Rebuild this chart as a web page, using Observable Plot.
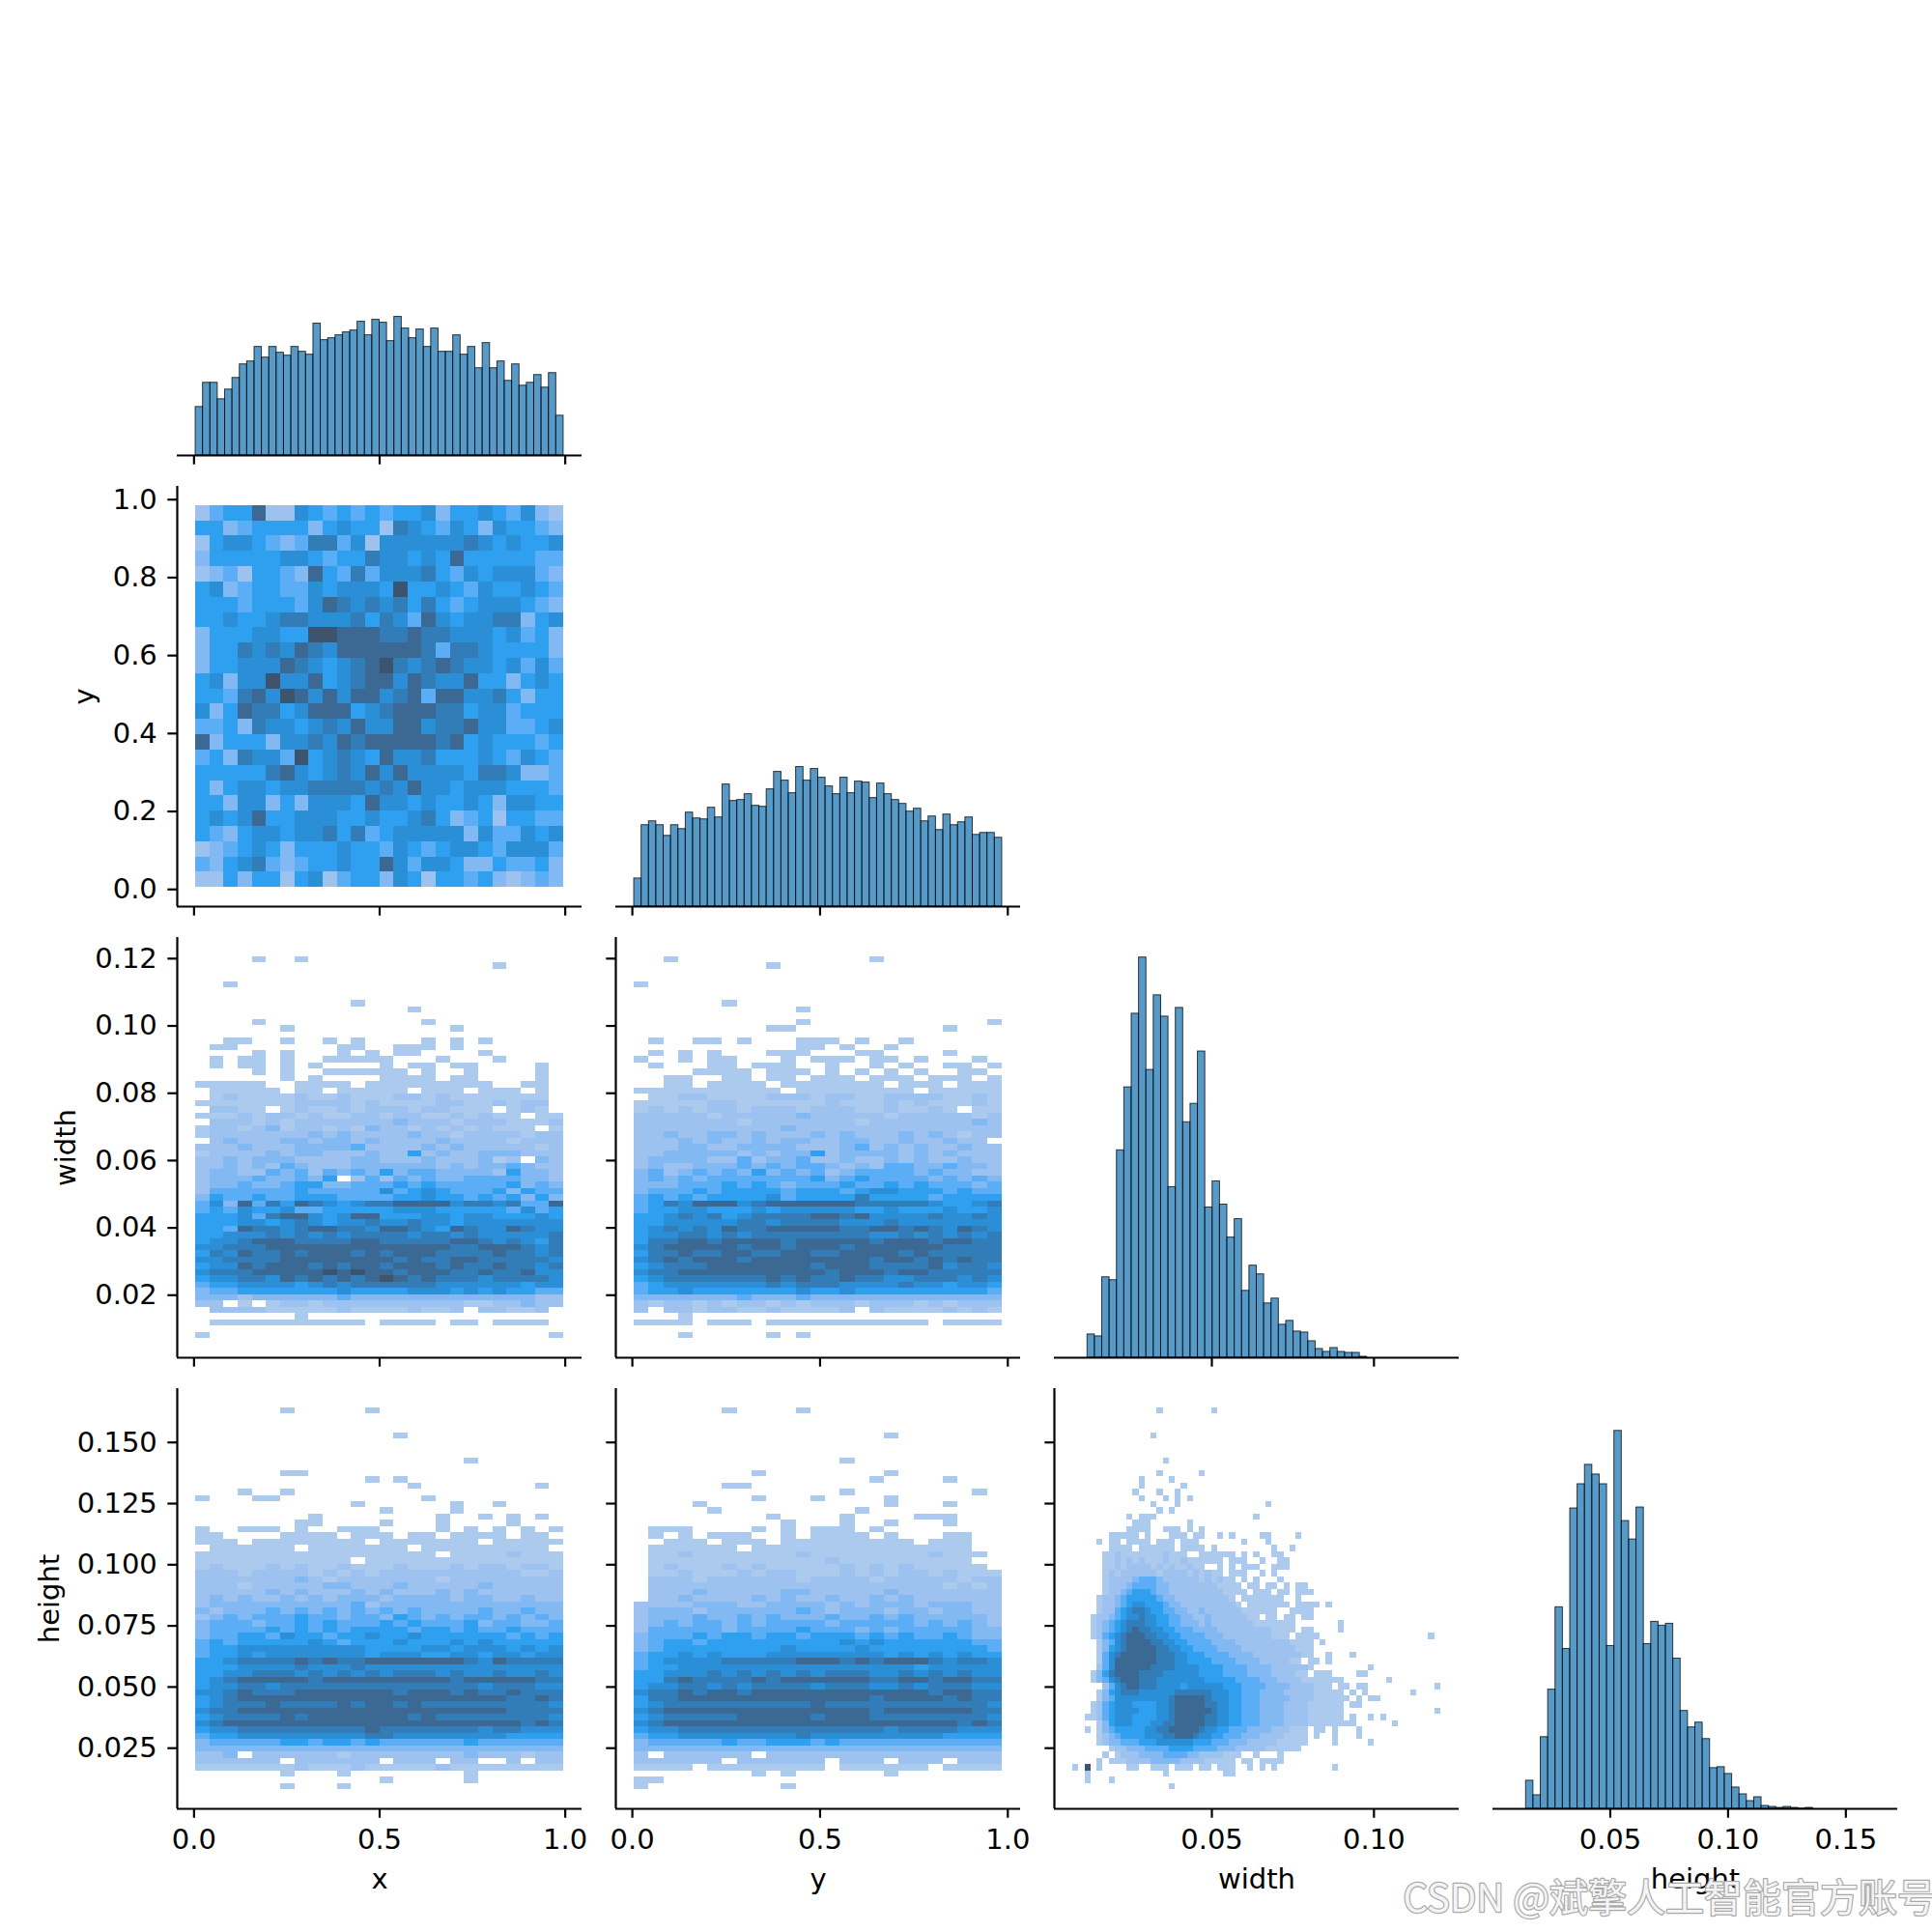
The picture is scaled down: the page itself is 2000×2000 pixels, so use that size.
<!DOCTYPE html>
<html><head><meta charset="utf-8">
<script src="https://cdn.jsdelivr.net/npm/d3@7"></script>
<script src="https://cdn.jsdelivr.net/npm/@observablehq/plot@0.6"></script>
<style>
body{margin:0;background:#fff;}
#fig{position:relative;width:2000px;height:2000px;background:#fff;overflow:hidden;}
#fig svg{position:absolute;overflow:visible;}
</style></head><body><div id="fig"></div>
<script>
// ---------------- data ----------------
const variables = ["x", "y", "width", "height"];
const xRange = [0.0044, 0.9956];
const yRange = [0.005, 0.985];
const widthRange = [0.0071, 0.1206];
const heightRange = [0.0080, 0.1642];

const xHistCounts = [50,75,75,58,68,80,94,97,112,101,112,106,103,112,107,104,136,119,121,124,127,129,138,124,140,137,118,143,131,121,130,112,131,107,107,124,104,112,90,116,90,97,77,94,72,75,83,70,85,41];
const yHistCounts = [29,84,88,84,73,84,80,97,91,90,102,92,126,109,110,116,104,103,121,139,130,117,144,130,142,133,124,116,133,117,129,128,112,127,116,110,106,98,101,88,93,79,95,84,87,92,74,76,76,71];
const widthHistCounts = [0,0,24,22,83,80,214,279,355,413,297,374,352,176,361,243,262,316,155,182,158,124,143,69,95,86,56,61,34,38,27,26,17,9,6,10,6,5,5,1,0,0,0,0,0,0,0,0,0,0];
const heightHistCounts = [0,0,29,14,74,123,208,165,310,335,355,345,335,168,390,297,278,311,170,193,189,191,155,101,84,89,72,42,43,36,22,15,8,12,3,2,1,2,1,0.3,1,0,0,0,0,0,0,0,0,0];

const bins2d = [26, 25, 61, 61];

const xTicksBottom = [0, 0.5, 1.0];
const yTicksBottom = [0, 0.5, 1.0];
const widthTicksBottom = [0.05, 0.10];
const heightTicksBottom = [0.05, 0.10, 0.15];
const yTicksLeft = [0, 0.2, 0.4, 0.6, 0.8, 1.0];
const widthTicksLeft = [0.02, 0.04, 0.06, 0.08, 0.10, 0.12];
const heightTicksLeft = [0.025, 0.05, 0.075, 0.10, 0.125, 0.15];

const watermark = "CSDN @斌擎人工智能官方账号";

// 2D histogram intensity levels (0 = empty, 1 = lightest ... 9 = darkest), rows from top
const gridXY = [
"24558226545454556355654632","55345555356552765465365543","25665434774626666667656556","35555566545576656585555544",
"23425543854746667546566643","56345544656665955654655654","55545554687676757545666543","55655677666757648656677356",
"35556655998887787766656453","35576768768888887477655553","35566687656789767876656464","56366966856788687668553565",
"55478698686886784886675355","63587756888567888775664555","44537665676866886778664456","83555366768788888785655545",
"45376649567658667555654654","55555786567686866665776334","53566566777767686656665554","55366353666586656556536655",
"56568556665565567534525544","54356656675745666663644656","23456535556554654566546664","43567434556558646653354453",
"22535525624553652554532343"];

const gridXWidth = [
"00001001000000000000000000","00000000000000000000010000","00000000000000000000000000","00000000000000000000000000",
"00100000000000000000000000","00000000000000000000000000","00000000000000000000000000","00000000000100000000000000",
"00000000000000010000000000","00000000000000000000000000","00001000000000001000000000","00000010000000000010000000",
"00000000000000000000000000","00110010010100001010100000","01100000001100111010000000","00001010001010110000100000",
"01011010011111000100010000","01011010100001011011000010","00001010011111101001000010","00000010100001111011000010",
"11111001111011111111100110","01111101101111101110111010","01211112112111221211111110","11111112222121111221121220",
"02211012112122212211101210","11121221211221221121211011","02221212222222322212221112","12212312212132212121211101",
"12222222323222232212222122","02322233233232222322221222","22232223333422223232222212","12222323322232252322333222",
"22323332222332223222312032","22323243222333333232334322","23322434243435344333325332","23334334350242434334444332",
"23343345533444545444445343","24444445444446456544453544","35445445554444556554545353","46384758765677888867767448",
"45465564455555666555554645","55564788656885556656655565","55566567656676676656666666","55487767887768876587668766",
"55666767676777767767666667","56678887777887777788767657","66777888888888888877888767","57687787888787888777787767",
"66777788888888787788777776","56687888787887888787787767","67778888898988788877877866","56677687878789878777677776",
"45566665676777777666666566","34455555556555566656565544","33323333334333333333333322","22010122122222222221122322",
"02222111112111121120221120","00000001000000000000000000","01111111111101111011011110","00000000000000000000000000",
"10000000000000000000000001"];

const gridYWidth = [
"0010000000000000100000000","0000000001000000000000000","0000000000000000000000000","0000000000000000000000000",
"1000000000000000000000000","0000000000000000000000000","0000000000000000000000000","0000001000000000000000000",
"0000000000010000000000000","0000000000000000000000000","0000000000010000000000001","0000000001100000000001000",
"0000000000000000000000000","0100110100011101001000000","0000000000011010010000000","0101010001110001100001000",
"1001011000101110110100010","0100011011100100101001101","0000111101110101010100110","0011001101101110111011101",
"0011011110111111101110111","1111111111011111111011111","0112211112221221122221121","1111122111111211121211121",
"1212122122212221121121011","2222212222232222212222212","2222222122222221222222232","2222222222322222222222222",
"2232233232223232223232122","2223232232332233223223220","2223322333322234232322322","2233333232335233332323222",
"2333322423342232232322322","2322333434344323244334332","3423434353434234444343322","3434344444445345444434343",
"3334445454344454454544434","3444545555455545665554544","4545455556455557555545555","4576888678888887777765567",
"4556655565666665565556556","5567675677778878666676676","5566666776777766676666666","5676768778888877887876876",
"5667767677777777667676767","5778878888788888788878877","6788888788788878888887777","5778778877887788887877777",
"6787888788888888788787877","5677788888887888777786776","6778888888888788878877777","5677777778787787766777676",
"4566666667677766667665665","4556555555565565555555554","3333333433343333333333333","2122121221212221222121222",
"2022122112111120211112121","0001000000000000000000000","1111011101111111111101111","0000000000000000000000000",
"0001000001010000000000000"];

const gridXHeight = [
"00000010000010000000000000","00000000000000000000000000","00000000000000000000000000","00000000000000000000000000",
"00000000000000100000000000","00000000000000000000000000","00000000000000000000000000","00000000000000000000000000",
"00000000000000000001000000","00000000000000000000000000","00000011000000000000000000","00000000000010100000000000",
"00000000000000010000000010","00010010000000000000000000","10001100000000001000000000","00000000000100000010010000",
"00000000000001000010000000","00000000100000000100101010","00000001100001000100001000","10011101001110000101010101",
"11000011110111011011110110","11101111111101111111011111","01111110111111101111111110","11111111111111111011112111",
"11111111111011111111111111","12111212112111211121221221","22212222121212222222222112","22222223212222222122222222",
"22212222233222322222322222","22222323222323222323222222","23232232323332333323322322","23333333333423333333333333",
"32333434343434343333433433","23434445443443543434434343","34443445454445454445344334","34444545454555545545445444",
"34455465545565565555554545","45455555654555655565655555","45566666666655556656665656","45565666666656665566566566",
"55677778787788888887687777","55566667666766666666666666","55667776767676777676676676","56788888788888888878888877",
"56677677777777777777677766","66787778888888788878778777","56788888888888888888887787","56777877778788787777777776",
"67788888888888888888887777","56777787888888878777777776","67888888888888888888888787","56677777777787777777677666",
"45566666666677666666665555","34444455455454444445444444","33333333333333333333333333","22302222221222222223222122",
"22222202222220222022002022","11111112111211111211111111","00000010001000000001000000","00000000000001000001000000",
"00000010001000000000000000"];

const gridYHeight = [
"0000001000010000000000000","0000000000000000000000000","0000000000000000000000000","0000000000000000000000000",
"0000000000000000010000000","0000000000000000000000000","0000000000000000000000000","0000000000000000000000000",
"0000000000000010000000000","0000000000000000000000000","0000000010000000010000000","0000000000000000100001000",
"0000001100000000000000000","0000000000000010000000010","0000000010001000010000000","0000100000000000010001000",
"0000010000000001000000000","0000000001000010000111000","0000000000100010010001000","0111000010101110100000000",
"0101011100101111010001100","0011101110111111111011100","0111111011111111111111100","0112111111121111111121110",
"0111111111111211111111100","0121112121111121212111110","0112111212211121212212111","0222122222212222122222122",
"0222222222222222222221212","0222322222332222232222222","0223222232322322323222222","2222333223333232333233322",
"2333233333343233323323322","2333433434333433434333332","2343443434444344444343432","2444443444454443434444433",
"3444545545545554545445433","3455455555555565655555544","3455555555655556555555554","4556565556666666656565655",
"4566667777788878788876776","4556666666666666666566666","5566676767676777667676766","5578777787888888778878877",
"5667767677776777667677766","6778788788888888888878877","5778888888888888788887877","5677777777778777777777776",
"6788888888888888788888877","5677777888887888777777776","6788888888888888888888787","5667777777777777767777666",
"4556666666676666666665555","3444445445554544444444444","3333333333333333333333333","2022222202222222222222222",
"2222220222222022202220222","1111011111111011111101111","0000000010100000010000000","1100000000000000000000000",
"1000000000100000000000000"];

// width (columns) vs height (rows); "offset: levels"
const gridWidthHeight = [
"14: 1000000001","","","","13: 1","","","","15: 1","","14: 10000001","11: 100001","11: 10000001","10: 10001001","11: 100010101",
"13: 10001000000000000001","14: 101","9: 1011100000000000000001","10: 1110000001","9: 1111001110101",
"6: 11111010001110110010100001100001",
"4: 10110111101110111000000010001",
"6: 1111011111101111010000000001001",
"5: 112111111121110011111101010011",
"5: 1121212111211211111101110010011",
"5: 1121222212121121100101011100111",
"5: 12122222212222121211011100101",
"5: 122223444322222212121101010001",
"5: 122234444332222222211 1101101101011",
"5: 1223455543322222222211 1101110110111",
"4: 12234555554332222222221 0 111111 1 00 1",
"4: 122345665554332222222221 0 1111111 0 111 101",
"4: 12245677655443322322222211 1111 00 1111",
"3: 1223456676655443322322222211 0 1101 1011",
"3: 123456777665544333232222222111 111 1 0000000 1",
"3: 12345678776655444333322222222211 11011 0000 1",
"3: 124567888776655444433322222222111 0 111 1 000000000000000000 1",
"4: 134678888776655444433332222222221111 0 1",
"4: 135678888877665544443333222222222 111",
"4: 146788888877766555444433332222222211 00 1 000 1",
"4: 14688888887776655554444333322222 11011 0 1",
"4: 246888888777766665555444433332222221 000000000 1",
"3: 135788887777666666555544443333222 2110111 0000 11",
"3: 1346788877 7666666665 5555444433 3222211111 11 0000000 1",
"5: 2467887776 6665666666 5554444333 32222111 0 11011 00000000000 1",
"4: 1356777666 6667777776 6655444333 3222221111 1 0 101 0000000 1",
"4: 1346666666 6678888876 6655444333 3322221111 110101 1",
"3: 1245666555 5667888887 7665544433 3322221111 1 1011",
"3: 1245666655 5667888888 7665544433 3322221111 11 000000000000000 1",
"2: 1124566655 5566788888 7766554443 3332222111 11101 00 101",
"4: 1356665556 6778888877 6655444333 3222211111 111 000000 1",
"2: 1 0 1345555566 7788888766 5544433332 22111 0 1101 000 1",
"4: 1234555566 6778887665 5444333222 21111 0 1 00 1 000 1",
"4: 1233444555 6666665554 4433322222 11111 0000 1 00000 1",
"6: 1223334444 5555444433 3222221111 11",
"5: 1 0 1222333344 4433222211 1 00 1 000 1",
"4: 1 0 1112222333 3322221111 101101111",
"0: 1 0 9 0 1 0000 11 00 111 0 111 0 110111 00 1 0 1 0 1 000000000 1",
"2: 1 000000000000 1 000000000 11",
"2: 10001",
"16: 1"];

// ---------------- seaborn-like colormap (HUSL ramp from C0) ----------------
const M = [[3.240969941904521,-1.537383177570093,-0.498610760293],[-0.96924363628087,1.87596750150772,0.041555057407175],[0.055630079696993,-0.20397695888897,1.056971514242878]];
const MINV = [[0.41239079926595,0.35758433938387,0.18048078840183],[0.21263900587151,0.71516867876775,0.072192315360733],[0.019330818715591,0.11919477979462,0.95053215224966]];
const refU = 0.19783000664283, refV = 0.46831999493879, kappa = 903.2962962, eps = 0.0088564516;
function bounds(L) {
  const s1 = Math.pow(L + 16, 3) / 1560896, s2 = s1 > eps ? s1 : L / kappa, out = [];
  for (const [m1, m2, m3] of M) for (const t of [0, 1]) {
    const top1 = (284517 * m1 - 94839 * m3) * s2;
    const top2 = (838422 * m3 + 769860 * m2 + 731718 * m1) * L * s2 - 769860 * t * L;
    const bot = (632260 * m3 - 126452 * m2) * s2 + 126452 * t;
    out.push([top1 / bot, top2 / bot]);
  }
  return out;
}
function maxChroma(L, H) {
  const h = H / 180 * Math.PI; let m = Infinity;
  for (const [sl, ic] of bounds(L)) { const len = ic / (Math.sin(h) - sl * Math.cos(h)); if (len >= 0) m = Math.min(m, len); }
  return m;
}
function huslToRgb(H, S, L) {
  const C = maxChroma(L, H) / 100 * S, h = H / 180 * Math.PI;
  const U = Math.cos(h) * C, V = Math.sin(h) * C;
  const Y = L <= 8 ? L / kappa : Math.pow((L + 16) / 116, 3);
  const vU = U / (13 * L) + refU, vV = V / (13 * L) + refV;
  const X = 9 * Y * vU / (4 * vV), Z = (9 * Y - 15 * vV * Y - vV * X) / (3 * vV);
  return M.map(r => { const c = r[0] * X + r[1] * Y + r[2] * Z; return c <= 0.0031308 ? 12.92 * c : 1.055 * Math.pow(c, 1 / 2.4) - 0.055; });
}
function rgbToHusl(r, g, b) {
  const lin = [r, g, b].map(c => c > 0.04045 ? Math.pow((c + 0.055) / 1.055, 2.4) : c / 12.92);
  const [X, Y, Z] = MINV.map(row => row[0] * lin[0] + row[1] * lin[1] + row[2] * lin[2]);
  const L = Y <= eps ? Y * kappa : 116 * Math.cbrt(Y) - 16, d = X + 15 * Y + 3 * Z;
  const U = 13 * L * (4 * X / d - refU), V = 13 * L * (9 * Y / d - refV);
  let H = Math.atan2(V, U) * 180 / Math.PI; if (H < 0) H += 360;
  return [H, Math.hypot(U, V) / maxChroma(L, H) * 100, L];
}
const C0 = d3.rgb("#1f77b4");
const [cH, cS] = rgbToHusl(C0.r / 255, C0.g / 255, C0.b / 255);
function seabornCmap(t) {
  const i = Math.max(0, Math.min(255, Math.floor(t * 256))), j = 255 - i;
  const L = 35 + 45 * j / 255, xx = -1 + 2 * j / 293;
  const c = huslToRgb(cH, cS * Math.cos(xx), L).map(v => 255 * Math.max(0, Math.min(1, v)));
  return d3.rgb(c[0], c[1], c[2]).formatHex();
}

// ---------------- layout ----------------
const fig = document.getElementById("fig");
const W = 419, H = 435;
const colLeft = c => 182.8 + 454.2 * c;
const rowTop = r => 36.4 + 467 * r;
const pad = ([a, b]) => [a - 0.05 * (b - a), b + 0.05 * (b - a)];
const edges = ([a, b], n) => d3.range(n + 1).map(i => a + (b - a) * i / n);

const ranges = [xRange, yRange, widthRange, heightRange];
const domains = ranges.map(pad);
const hists = [xHistCounts, yHistCounts, widthHistCounts, heightHistCounts];
const bottomTicks = [xTicksBottom, yTicksBottom, widthTicksBottom, heightTicksBottom];
const leftTicks = [null, yTicksLeft, widthTicksLeft, heightTicksLeft];
const bottomFmt = [".1f", ".1f", ".2f", ".2f"];
const leftFmt = [null, ".1f", ".2f", ".3f"];
const yLabelDx = [0, -96, -115, -132];
const grids = {"1,0": gridXY, "2,0": gridXWidth, "2,1": gridYWidth, "3,0": gridXHeight, "3,1": gridYHeight, "3,2": gridWidthHeight};
const diagTop = 1.05 * d3.max(hists.flat());
const FONT = 29, TICK = 9.7, LW = 2.2;
const baseStyle = {background: "none", overflow: "visible", fontFamily: "DejaVu Sans", fontSize: FONT + "px", color: "#000"};

function axisBottom(k, labelled) {
  return Plot.axisX({ticks: bottomTicks[k], tickFormat: labelled ? d3.format(bottomFmt[k]) : () => "",
    tickSize: TICK, tickPadding: 11, strokeWidth: LW, fontSize: FONT, label: null});
}
function axisLeft(k, labelled) {
  return Plot.axisY({ticks: leftTicks[k], tickFormat: labelled ? d3.format(leftFmt[k]) : () => "",
    tickSize: TICK, tickPadding: 11, strokeWidth: LW, fontSize: FONT, label: null});
}
function xLabel(k) {
  return Plot.text([variables[k]], {text: d => d, frameAnchor: "bottom", dy: 73, textAnchor: "middle", lineAnchor: "middle", fontSize: FONT});
}
function yLabel(k) {
  return Plot.text([variables[k]], {text: d => d, frameAnchor: "left", dx: yLabelDx[k], rotate: -90, textAnchor: "middle", lineAnchor: "middle", fontSize: FONT});
}

function place(svg, r, c, mL, mT) {
  svg.style.position = "absolute";
  svg.style.left = (colLeft(c) - mL) + "px";
  svg.style.top = (rowTop(r) - mT) + "px";
  fig.appendChild(svg);
}
function parseRow(s, n) {
  s = s.replace(/\s+/g, "");
  let off = 0;
  if (s.includes(":")) { const p = s.split(":"); off = +p[0]; s = p[1]; }
  const out = new Array(n).fill(0);
  for (let i = 0; i < s.length && off + i < n; i++) out[off + i] = +s[i];
  return out;
}

// off-diagonal 2D histograms
for (let r = 1; r < 4; r++) {
  for (let c = 0; c < r; c++) {
    const nx = bins2d[c], ny = bins2d[r];
    const ex = edges(ranges[c], nx), ey = edges(ranges[r], ny);
    const cells = [];
    grids[r + "," + c].forEach((row, ri) => {
      parseRow(row, nx).forEach((v, ci) => {
        if (v > 0) cells.push({x1: ex[ci], x2: ex[ci + 1], y1: ey[ny - 1 - ri], y2: ey[ny - ri], level: v});
      });
    });
    const mL = c === 0 ? 180 : 30, mR = 10, mT = 10, mB = r === 3 ? 110 : 30;
    const marks = [
      Plot.rect(cells, {x1: "x1", x2: "x2", y1: "y1", y2: "y2", fill: "level", shapeRendering: "crispEdges"}),
      Plot.ruleX([domains[c][0]], {strokeWidth: LW}),
      Plot.ruleY([domains[r][0]], {strokeWidth: LW}),
      axisBottom(c, r === 3),
      axisLeft(r, c === 0)
    ];
    if (r === 3) marks.push(xLabel(c));
    if (c === 0) marks.push(yLabel(r));
    const svg = Plot.plot({
      width: W + mL + mR, height: H + mT + mB,
      marginLeft: mL, marginRight: mR, marginTop: mT, marginBottom: mB,
      x: {domain: domains[c]}, y: {domain: domains[r]},
      color: {type: "pow", exponent: 1.6, domain: [1, 9], interpolate: seabornCmap},
      style: baseStyle, marks
    });
    place(svg, r, c, mL, mT);
  }
}

// diagonal histograms
for (let k = 0; k < 4; k++) {
  const e = edges(ranges[k], hists[k].length);
  const bars = hists[k].map((v, i) => ({x1: e[i], x2: e[i + 1], count: v})).filter(d => d.count > 0);
  const mL = k === 0 ? 180 : 30, mR = 10, mT = 10, mB = k === 3 ? 110 : 30;
  const marks = [
    Plot.rectY(bars, {x1: "x1", x2: "x2", y: "count", fill: "#1f77b4", fillOpacity: 0.75, stroke: "#000", strokeOpacity: 0.75, strokeWidth: 1}),
    Plot.ruleY([0], {strokeWidth: LW}),
    axisBottom(k, k === 3)
  ];
  if (k === 3) {
    marks.push(xLabel(k));
    marks.push(Plot.text([watermark], {text: d => d, frameAnchor: "bottom-left", dx: -93, dy: 94, textAnchor: "start", lineAnchor: "middle",
      fontSize: 40, fontFamily: "Noto Sans CJK SC", fill: "#f4f4f4", stroke: "#a8a8a8", strokeWidth: 2.4}));
  }
  const svg = Plot.plot({
    width: W + mL + mR, height: H + mT + mB,
    marginLeft: mL, marginRight: mR, marginTop: mT, marginBottom: mB,
    x: {domain: domains[k]}, y: {domain: [0, diagTop], axis: null},
    style: baseStyle, marks
  });
  place(svg, k, k, mL, mT);
}
</script></body></html>
